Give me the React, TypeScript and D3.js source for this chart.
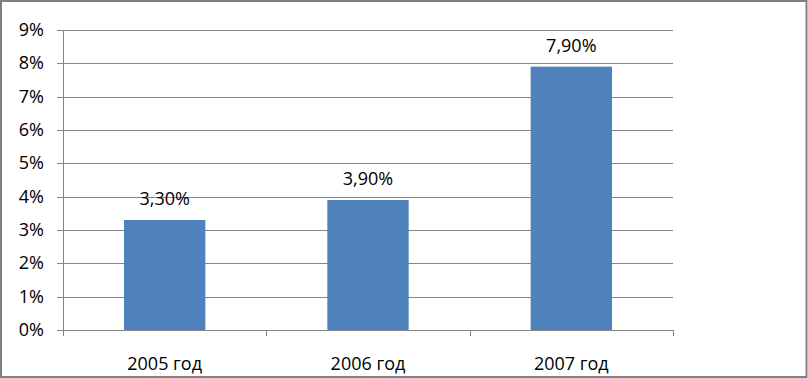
import React from "react";
import * as d3 from "d3";

const categories = ["2005 год", "2006 год", "2007 год"];
const values = [3.3, 3.9, 7.9];
const valueLabels = ["3,30%", "3,90%", "7,90%"];
const yTicks = [0, 1, 2, 3, 4, 5, 6, 7, 8, 9];

const W = 808;
const H = 378;
const left = 63;
const right = 673;
const top = 30;
const bottom = 330;
const font = "'Open Sans', sans-serif";
const gray = "#868686";

export default function App() {
  const x = d3.scaleBand<string>().domain(categories).range([left, right]).paddingInner(0).paddingOuter(0);
  const y = d3.scaleLinear().domain([0, 9]).range([bottom, top]);
  const bw = x.bandwidth() * 0.4;
  const bounds = [left, ...categories.map((c) => (x(c) as number) + x.bandwidth())];

  return (
    <svg width={W} height={H} style={{ position: "absolute", left: 0, top: 0, display: "block" }}>
      <rect x={0} y={0} width={W} height={H} fill="#fff" />
      <rect x={1} y={1} width={W - 2.5} height={H - 2} fill="none" stroke="#808080" strokeWidth={2} />
      {yTicks.map((t) => (
        <g key={t}>
          <line x1={left - 6} x2={t === 0 ? right : right} y1={Math.round(y(t)) + 0.5} y2={Math.round(y(t)) + 0.5} stroke={gray} strokeWidth={1} />
          <text x={44} y={y(t) + 6} textAnchor="end" fontFamily={font} fontSize={18} fill="#000">
            {t}%
          </text>
        </g>
      ))}
      <line x1={left + 0.5} x2={left + 0.5} y1={top} y2={bottom} stroke={gray} />
      {bounds.map((b, i) => (
        <line key={i} x1={Math.round(b) + 0.5} x2={Math.round(b) + 0.5} y1={bottom} y2={bottom + 6} stroke={gray} />
      ))}
      {categories.map((c, i) => {
        const cx = (x(c) as number) + x.bandwidth() / 2;
        return (
          <g key={c}>
            <rect x={cx - bw / 2} y={y(values[i])} width={bw} height={bottom - y(values[i])} fill="#4F81BD" />
            <text x={cx} y={y(values[i]) - 15} textAnchor="middle" fontFamily={font} fontSize={18} fill="#000">
              {valueLabels[i]}
            </text>
            <text x={cx} y={370} textAnchor="middle" fontFamily={font} fontSize={18} fill="#000">
              {c}
            </text>
          </g>
        );
      })}
    </svg>
  );
}
